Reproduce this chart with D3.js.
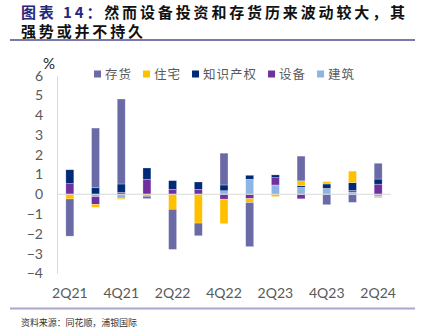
<!DOCTYPE html>
<html>
<head>
<meta charset="utf-8">
<script src="https://cdn.jsdelivr.net/npm/d3@7"></script>
<style>
  body { margin: 0; background: #fff; }
  svg { display: block; }
</style>
</head>
<body>
<div id="chart"></div>
<script>
const quarters = ['2Q21', '3Q21', '4Q21', '1Q22', '2Q22', '3Q22', '4Q22', '1Q23', '2Q23', '3Q23', '4Q23', '1Q24', '2Q24'];
const tickQuarters = ['2Q21', '4Q21', '2Q22', '4Q22', '2Q23', '4Q23', '2Q24'];
const yTicks = [6, 5, 4, 3, 2, 1, 0, -1, -2, -3, -4];

// contributions, percentage points
const inventory = [-1.88, 3.02, 4.30, -0.12, -2.03, -0.64, 1.61, -2.23, 0, 1.25, -0.53, -0.41, 0.80];
const housing = [-0.24, -0.15, -0.06, -0.10, -0.76, -1.46, -1.24, -0.20, -0.12, 0.25, 0.12, 0.58, -0.05];
const ip = [0.70, 0.33, 0.42, 0.57, 0.44, 0.37, 0.29, 0.20, 0.14, 0.08, 0.22, 0.40, 0.26];
const equipment = [0.54, -0.39, 0.10, 0.76, 0.25, 0.25, -0.25, -0.22, 0.37, -0.23, 0, 0.08, 0.51];
const structures = [0, -0.12, -0.20, 0, 0, 0, 0.18, 0.76, 0.47, 0.35, 0.30, 0.11, -0.13];

const seriesNames = ['存货', '住宅', '知识产权', '设备', '建筑'];
const seriesValues = [inventory, housing, ip, equipment, structures];
const seriesColors = ['#6a6aa6', '#ffc000', '#002a78', '#7030a0', '#8db4e2'];

const width = 421;
const height = 331;

const rows = quarters.map(function (q, i) {
  const row = { q: q };
  seriesNames.forEach(function (name, j) {
    row[name] = seriesValues[j][i];
  });
  return row;
});

// stacked outward from zero: 建筑 first, 存货 last
const stackKeys = seriesNames.slice().reverse();
const stacked = d3.stack()
  .keys(stackKeys)
  .offset(d3.stackOffsetDiverging)(rows);

const svg = d3.select('#chart').append('svg')
  .attr('width', width)
  .attr('height', height);

// Title
const title = svg.append('g')
  .attr('font-family', '"Noto Sans CJK SC", sans-serif')
  .attr('font-weight', 'bold')
  .attr('font-size', 15);

const line1 = title.append('text')
  .attr('x', 21)
  .attr('y', 17.5)
  .attr('textLength', 384)
  .attr('lengthAdjust', 'spacing');
line1.append('tspan')
  .attr('fill', '#26267a')
  .text('图表 14：');
line1.append('tspan')
  .attr('fill', '#111')
  .text('然而设备投资和存货历来波动较大，其');

title.append('text')
  .attr('x', 21)
  .attr('y', 37)
  .attr('fill', '#111')
  .attr('textLength', 122)
  .attr('lengthAdjust', 'spacing')
  .text('强势或并不持久');

svg.append('line')
  .attr('x1', 10).attr('x2', 415)
  .attr('y1', 40).attr('y2', 40)
  .attr('stroke', '#4e4e8e')
  .attr('stroke-width', 1.6);

// Scales
const x = d3.scaleBand()
  .domain(quarters)
  .range([57, 391])
  .paddingInner(0.69)
  .paddingOuter(0.345);

const y = d3.scaleLinear()
  .domain([-4, 6])
  .range([273.3, 75.7]);

// Y axis
const yAxis = svg.append('g')
  .attr('transform', 'translate(57,0)')
  .call(d3.axisLeft(y).tickValues(yTicks).tickSize(0).tickPadding(14).tickFormat(d3.format('d')));
yAxis.select('.domain')
  .attr('stroke', '#d9d9d9');
yAxis.selectAll('text')
  .attr('fill', '#595959')
  .attr('font-family', 'Lato, "Open Sans", sans-serif')
  .attr('font-size', 14);

svg.append('text')
  .attr('x', 49)
  .attr('y', 69)
  .attr('text-anchor', 'middle')
  .attr('fill', '#222')
  .attr('font-family', 'Lato, "Open Sans", sans-serif')
  .attr('font-size', 15)
  .text('%');

// Bars
svg.append('g')
  .selectAll('g')
  .data(stacked)
  .join('g')
  .attr('fill', function (d) {
    return seriesColors[seriesNames.indexOf(d.key)];
  })
  .selectAll('rect')
  .data(function (d) { return d; })
  .join('rect')
  .attr('x', function (d) { return x(d.data.q); })
  .attr('width', x.bandwidth())
  .attr('y', function (d) { return y(Math.max(d[0], d[1])); })
  .attr('height', function (d) { return Math.abs(y(d[0]) - y(d[1])); })
  .attr('stroke', '#ffffff')
  .attr('stroke-opacity', 0.45)
  .attr('stroke-width', 0.6);

// zero line
svg.append('line')
  .attr('x1', 57).attr('x2', 391)
  .attr('y1', y(0)).attr('y2', y(0))
  .attr('stroke', '#d9d9d9')
  .attr('stroke-width', 1.2);

// X labels
const xAxis = svg.append('g')
  .attr('transform', 'translate(0,288)')
  .call(d3.axisBottom(x).tickValues(tickQuarters).tickSize(0).tickPadding(0));
xAxis.select('.domain').remove();
xAxis.selectAll('text')
  .attr('fill', '#595959')
  .attr('font-family', 'Lato, "Open Sans", sans-serif')
  .attr('font-size', 14);

// Legend
const legend = svg.append('g')
  .attr('font-family', '"Noto Sans CJK SC", sans-serif')
  .attr('font-size', 12.5)
  .attr('fill', '#595959');
let lx = 94;
seriesNames.forEach(function (name, i) {
  legend.append('rect')
    .attr('x', lx)
    .attr('y', 70.5)
    .attr('width', 7)
    .attr('height', 7)
    .attr('fill', seriesColors[i]);
  const t = legend.append('text')
    .attr('x', lx + 11)
    .attr('y', 78.5)
    .attr('letter-spacing', 1)
    .text(name);
  lx = lx + 11 + t.node().getComputedTextLength() + 11;
});

// Footer
svg.append('line')
  .attr('x1', 10).attr('x2', 415)
  .attr('y1', 308.5).attr('y2', 308.5)
  .attr('stroke', '#a8a8cc')
  .attr('stroke-width', 2);

svg.append('text')
  .attr('x', 21)
  .attr('y', 326)
  .attr('fill', '#333')
  .attr('font-family', '"Noto Sans CJK SC", sans-serif')
  .attr('font-size', 9)
  .attr('textLength', 116)
  .attr('lengthAdjust', 'spacing')
  .text('资料来源：同花顺，浦银国际');
</script>
</body>
</html>
